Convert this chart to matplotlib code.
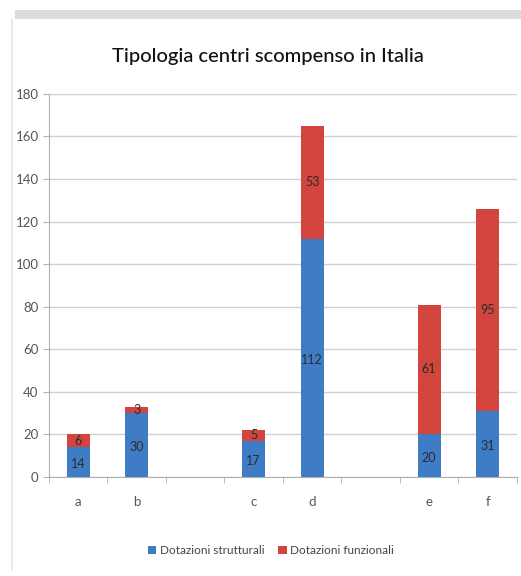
import matplotlib.pyplot as plt
from matplotlib.patches import Rectangle
from matplotlib.lines import Line2D
import numpy as np

# Data
categories = ['a', 'b', '', 'c', 'd', '', 'e', 'f']
strutturali = [14, 30, 0, 17, 112, 0, 20, 31]
funzionali = [6, 3, 0, 5, 53, 0, 61, 95]
yticks = [0, 20, 40, 60, 80, 100, 120, 140, 160, 180]

blue = '#3f7cc6'
red = '#d2453f'

plt.rcParams['font.family'] = ['Lato', 'DejaVu Sans']

fig = plt.figure(figsize=(5.21, 5.76), dpi=100)
ax = fig.add_axes([0.094, 0.172, 0.898, 0.665])

# Frame decorations (gray band on top, thin border on the left)
fig.patches.append(Rectangle((15 / 521, 1 - 19 / 576), 1, 9 / 576, transform=fig.transFigure,
                             facecolor='#dcdcdc', edgecolor='none', zorder=0))
fig.lines.append(Line2D([12 / 521, 12 / 521], [1 - 19 / 576, 6 / 576], transform=fig.transFigure,
                        color='#e6e6e6', lw=1.2))

x = np.arange(len(categories))
w = 0.39
ax.bar(x, strutturali, w, color=blue, label='Dotazioni strutturali', zorder=3)
ax.bar(x, funzionali, w, bottom=strutturali, color=red, label='Dotazioni funzionali', zorder=3)

# Data labels
for i in range(len(categories)):
    if categories[i] == '':
        continue
    ax.text(x[i], strutturali[i] / 2 - 1, str(strutturali[i]), ha='center', va='center',
            fontsize=9, color='#2b2b2b', zorder=4)
    ax.text(x[i], strutturali[i] + funzionali[i] / 2, str(funzionali[i]), ha='center', va='center',
            fontsize=9, color='#2b2b2b', zorder=4)

ax.set_xlim(-0.5, len(categories) - 0.5)
ax.set_ylim(0, 180)
ax.set_yticks(yticks)
ax.set_xticks(x)
ax.set_xticklabels(categories)
ax.set_xticks(np.arange(-0.5, len(categories)), minor=True)
ax.tick_params(axis='x', which='major', length=0, pad=14, labelsize=9.5, labelcolor='#555555')
ax.tick_params(axis='x', which='minor', length=4, color='#b0b0b0', direction='out')
ax.tick_params(axis='y', length=4, color='#b0b0b0', labelsize=9.5, labelcolor='#555555')

ax.grid(axis='y', color='#d0d0d0', lw=1, zorder=0)
for s in ['top', 'right']:
    ax.spines[s].set_visible(False)
ax.spines['left'].set_color('#b0b0b0')
ax.spines['bottom'].set_color('#b0b0b0')

fig.text(0.515, 0.902, 'Tipologia centri scompenso in Italia', ha='center', va='center',
         fontsize=14.5, fontweight='medium', color='#111111')

fig.legend(loc='center', bbox_to_anchor=(0.52, 0.044), ncol=2, frameon=False,
           fontsize=8.5, handlelength=0.7, handleheight=0.7, handletextpad=0.3,
           columnspacing=1.2, labelcolor='#444444')

fig.savefig('out.png', dpi=100)
